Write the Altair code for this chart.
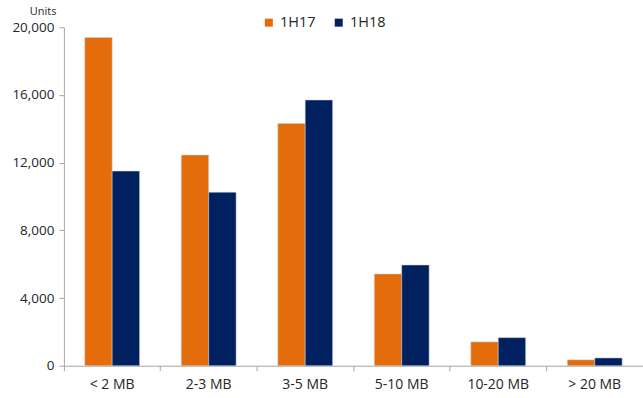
import altair as alt
import pandas as pd

categories = ["< 2 MB", "2-3 MB", "3-5 MB", "5-10 MB", "10-20 MB", "> 20 MB"]
series = ["1H17", "1H18"]
values_1h17 = [19400, 12450, 14320, 5420, 1410, 350]
values_1h18 = [11500, 10250, 15700, 5950, 1660, 460]
colors = ["#E46C0A", "#002060"]

rows = []
for c, a, b in zip(categories, values_1h17, values_1h18):
    rows.append({"cat": c, "series": "1H17", "value": a})
    rows.append({"cat": c, "series": "1H18", "value": b})
df = pd.DataFrame(rows)

FONT = "Open Sans"

chart = alt.Chart(df).mark_bar(stroke="#d0d4dc", strokeWidth=0.5).encode(
    x=alt.X("cat:N", sort=categories, title=None,
            scale=alt.Scale(paddingInner=0, paddingOuter=0),
            axis=alt.Axis(labelAngle=0, bandPosition=0, domainColor="#A6A6A6",
                          tickColor="#A6A6A6", tickSize=5, labelPadding=7,
                          labelFontSize=14, labelColor="#262626", labelFont=FONT)),
    xOffset=alt.XOffset("series:N", sort=series,
                        scale=alt.Scale(paddingInner=0, paddingOuter=0.76)),
    y=alt.Y("value:Q", title="Units",
            scale=alt.Scale(domain=[0, 20000], nice=False),
            axis=alt.Axis(values=[0, 4000, 8000, 12000, 16000, 20000], format=",.0f",
                          grid=False, domainColor="#A6A6A6", tickColor="#A6A6A6",
                          tickSize=5, labelPadding=5, labelFontSize=13.5,
                          labelColor="#262626", labelFont=FONT,
                          titleAngle=0, titleAlign="right", titleBaseline="alphabetic",
                          titleX=-8, titleY=-13, titleFontSize=11, titleFontWeight="normal",
                          titleColor="#262626", titleFont=FONT)),
    color=alt.Color("series:N", sort=series,
                    scale=alt.Scale(domain=series, range=colors),
                    legend=alt.Legend(title=None, orient="none", direction="horizontal",
                                      legendX=198, legendY=-12, symbolType="square",
                                      symbolSize=64, symbolStrokeWidth=0,
                                      labelFontSize=14.5, labelColor="#262626",
                                      labelFont=FONT, columnPadding=15, labelOffset=4)),
).properties(
    width=580, height=339,
    autosize=alt.AutoSizeParams(type="none"),
    padding={"left": 64, "top": 27, "right": 0, "bottom": 32},
).configure_view(stroke=None)

chart.save("out.html", embed_options={"renderer": "svg", "actions": False})
